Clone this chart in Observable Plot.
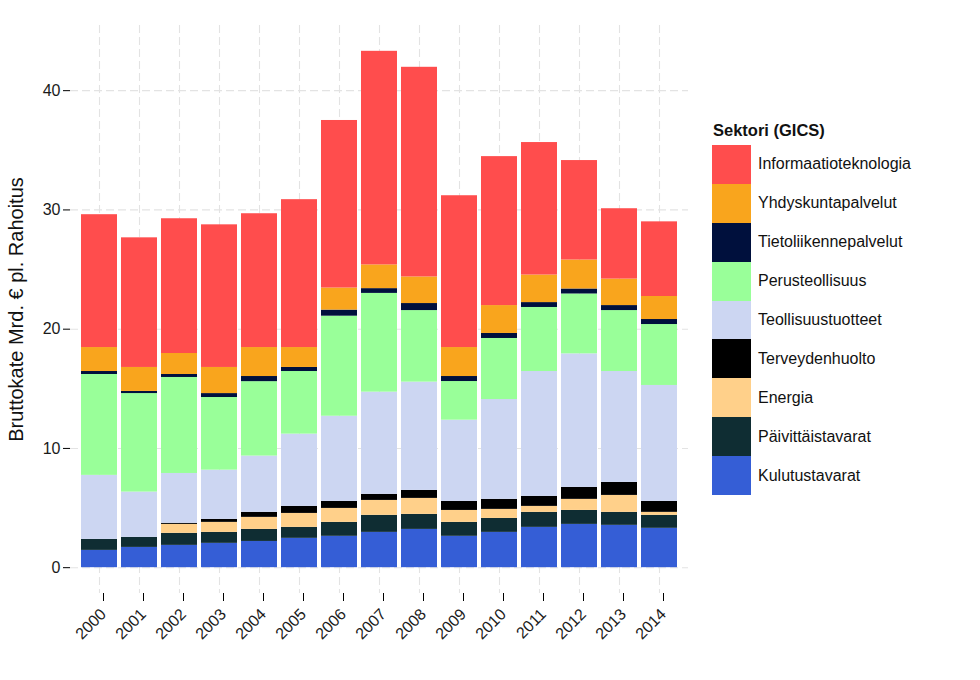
<!DOCTYPE html>
<html>
<head>
<meta charset="utf-8">
<script src="https://cdn.jsdelivr.net/npm/d3@7"></script>
<script src="https://cdn.jsdelivr.net/npm/@observablehq/plot@0.6"></script>
<style>
  html, body { margin: 0; padding: 0; background: #fff; }
  body { font-family: "Liberation Sans", Arial, sans-serif; }
  #wrap { position: relative; width: 980px; height: 680px; }
  #legend { position: absolute; left: 712px; top: 119px; color: #111; }
  #legend .title { font-weight: bold; font-size: 16.5px; margin-left: 1px; height: 26px; line-height: 22px; }
  #legend .row { display: flex; align-items: center; height: 38.9px; }
  #legend .sw { width: 39px; height: 38.9px; }
  #legend .lab { margin-left: 7px; font-size: 16px; }
</style>
</head>
<body>
<div id="wrap"></div>
<script>
// ---- data ----
const years = ["2000","2001","2002","2003","2004","2005","2006","2007","2008","2009","2010","2011","2012","2013","2014"];

// sectors in stacking order (bottom to top)
const sectors = ["Kulutustavarat","Päivittäistavarat","Energia","Terveydenhuolto","Teollisuustuotteet","Perusteollisuus","Tietoliikennepalvelut","Yhdyskuntapalvelut","Informaatioteknologia"];
const sectorColors = ["#355ed6","#0f2d33","#ffd08a","#000000","#ccd6f2","#99ff99","#00103d","#f9a51d","#ff4d4d"];

const kulutustavarat        = [1.45,1.70,1.87,2.04,2.20,2.46,2.63,2.96,3.21,2.63,2.96,3.38,3.63,3.55,3.30];
const paivittaistavarat     = [0.92,0.84,1.01,0.92,1.01,0.92,1.17,1.43,1.26,1.17,1.17,1.26,1.17,1.09,1.09];
const energia               = [0.00,0.00,0.75,0.84,1.01,1.17,1.17,1.25,1.34,1.00,0.76,0.50,0.93,1.42,0.25];
const terveydenhuolto       = [0.00,0.00,0.09,0.25,0.42,0.59,0.59,0.51,0.67,0.76,0.84,0.84,1.00,1.09,0.92];
const teollisuustuotteet    = [5.37,3.80,4.18,4.13,4.72,6.06,7.14,8.57,9.08,6.81,8.37,10.47,11.20,9.30,9.72];
const perusteollisuus       = [8.46,8.26,8.05,6.09,6.24,5.25,8.39,8.28,6.00,3.24,5.12,5.37,5.02,5.11,5.11];
const tietoliikennepalvelut = [0.25,0.18,0.25,0.33,0.43,0.34,0.51,0.40,0.59,0.42,0.42,0.41,0.42,0.42,0.42];
const yhdyskuntapalvelut    = [2.01,2.01,1.76,2.19,2.43,1.67,1.85,1.99,2.23,2.43,2.34,2.31,2.43,2.22,1.93];
const informaatioteknologia = [11.14,10.87,11.30,11.96,11.22,12.40,14.05,17.91,17.58,12.73,12.49,11.11,8.34,5.90,6.26];

const yTicks = [0,10,20,30,40];
const yLabel = "Bruttokate Mrd. € pl. Rahoitus";
const legendTitle = "Sektori (GICS)";

// ---- build long table ----
const seriesValues = [kulutustavarat,paivittaistavarat,energia,terveydenhuolto,teollisuustuotteet,perusteollisuus,tietoliikennepalvelut,yhdyskuntapalvelut,informaatioteknologia];
const table = [];
years.forEach((yr, i) => {
  sectors.forEach((s, j) => {
    table.push({year: yr, sector: s, value: seriesValues[j][i]});
  });
});
const totals = years.map((yr, i) => d3.sum(seriesValues, v => v[i]));
const maxTotal = d3.max(totals);
const expand = 0.05 * maxTotal;

const gridStyle = {stroke: "#e3e3e3", strokeOpacity: 1, strokeWidth: 1.1, strokeDasharray: "8,4"};

const chart = Plot.plot({
  width: 980,
  height: 680,
  marginLeft: 70,
  marginRight: 292,
  marginTop: 25,
  marginBottom: 87,
  style: {fontFamily: "'Liberation Sans', Arial, sans-serif", fontSize: "16px", color: "#1a1a1a", background: "transparent"},
  x: {type: "band", domain: years, paddingInner: 0.09, paddingOuter: 0.145, align: 0.5},
  y: {domain: [-expand, maxTotal + expand]},
  color: {domain: sectors, range: sectorColors},
  marks: [
    Plot.gridX({...gridStyle}),
    Plot.gridY(yTicks, {...gridStyle}),
    Plot.barY(table, {x: "year", y: "value", fill: "sector", order: sectors, inset: 0}),
    Plot.axisY(yTicks, {tickSize: 7, tickPadding: 3, label: null, fontSize: 16, stroke: "#000", fill: "#1a1a1a"}),
    Plot.axisX({tickSize: 8, tickPadding: 10, tickRotate: -45, label: null, fontSize: 16, stroke: "#000", fill: "#1a1a1a", dx: 4}),
    Plot.text([yLabel], {frameAnchor: "left", dx: -54, rotate: -90, textAnchor: "middle", fontSize: 20, fill: "#111", text: d => d})
  ]
});

const wrap = document.getElementById("wrap");
wrap.appendChild(chart);

// legend (top to bottom = reverse stacking order)
const legend = document.createElement("div");
legend.id = "legend";
const t = document.createElement("div");
t.className = "title";
t.textContent = legendTitle;
legend.appendChild(t);
sectors.slice().reverse().forEach((s) => {
  const row = document.createElement("div");
  row.className = "row";
  const sw = document.createElement("div");
  sw.className = "sw";
  sw.style.background = sectorColors[sectors.indexOf(s)];
  const lab = document.createElement("div");
  lab.className = "lab";
  lab.textContent = s;
  row.appendChild(sw);
  row.appendChild(lab);
  legend.appendChild(row);
});
wrap.appendChild(legend);
</script>
</body>
</html>
